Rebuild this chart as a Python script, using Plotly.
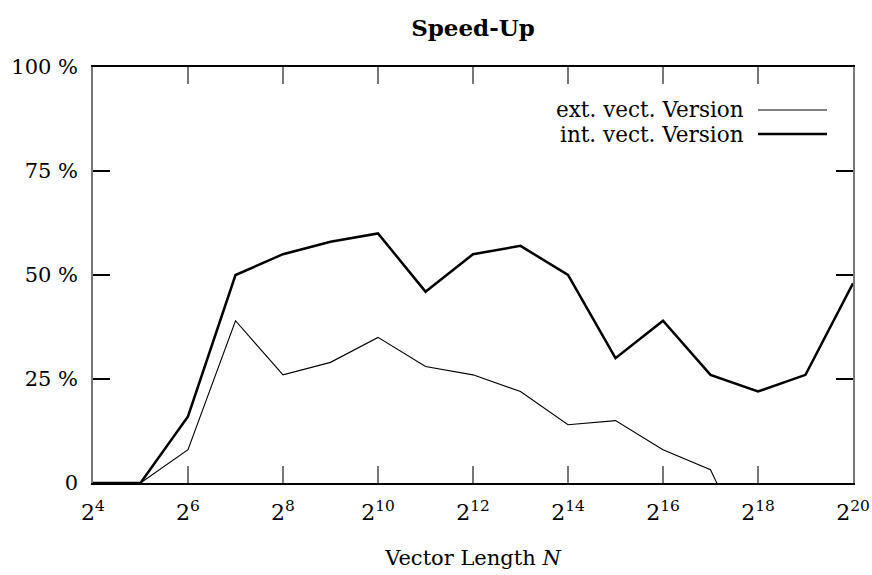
import plotly.graph_objects as go

exponents = [4, 5, 6, 7, 8, 9, 10, 11, 12, 13, 14, 15, 16, 17, 18, 19, 20]
ext_exponents = [4, 5, 6, 7, 8, 9, 10, 11, 12, 13, 14, 15, 16, 17, 18]
ext_speedup = [0, 0, 8, 39, 26, 29, 35, 28, 26, 22, 14, 15, 8, 3.2, -21]
int_speedup = [0, 0, 16, 50, 55, 58, 60, 46, 55, 57, 50, 30, 39, 26, 22, 26, 48]
x_tick_exps = [4, 6, 8, 10, 12, 14, 16, 18, 20]
y_tick_vals = [0, 25, 50, 75, 100]
y_tick_text = ["0", "25 %", "50 %", "75 %", "100 %"]
series_names = ["ext. vect. Version", "int. vect. Version"]

FONT = "DejaVu Serif"

fig = go.Figure()
fig.add_trace(go.Scatter(x=[2 ** e for e in ext_exponents], y=ext_speedup, mode="lines",
                         line=dict(color="black", width=1.1), name=series_names[0], showlegend=False))
fig.add_trace(go.Scatter(x=[2 ** e for e in exponents], y=int_speedup, mode="lines",
                         line=dict(color="black", width=2.5), name=series_names[1], showlegend=False))

# manual legend (text left of sample line)
legend_rows_y = [110, 134]
widths = [1.1, 2.5]
H = 575
W = 872
for name, yy, w in zip(series_names, legend_rows_y, widths):
    fig.add_annotation(xref="paper", yref="paper", x=(746 - 93) / 760, y=(483 - yy) / 416,
                       text=name, showarrow=False, xanchor="right", yanchor="middle",
                       font=dict(family=FONT, size=21.5, color="black"))
    fig.add_shape(type="line", xref="paper", yref="paper",
                  x0=(758 - 93) / 760, x1=(827 - 93) / 760,
                  y0=(483 - yy) / 416, y1=(483 - yy) / 416,
                  line=dict(color="black", width=w))

fig.update_layout(
    width=W, height=H,
    margin=dict(l=93, r=19, t=67, b=92),
    paper_bgcolor="white", plot_bgcolor="white",
    font=dict(family=FONT, size=21, color="black"),
    title=dict(text="<b>Speed-Up</b>", x=(473) / W, xanchor="center", y=1 - 28 / H, yanchor="middle",
               font=dict(family=FONT, size=23, color="black")),
    xaxis=dict(type="log", range=[4 * 0.30103, 20 * 0.30103], automargin=False,
               tickvals=[2 ** e for e in x_tick_exps],
               ticktext=[f"2<sup>{e}</sup>" for e in x_tick_exps],
               ticks="inside", ticklen=17, tickcolor="#777777", tickwidth=1.5,
               showline=True, linecolor="black", linewidth=1.5, mirror="allticks",
               showgrid=False, zeroline=False, ticklabelstandoff=9,
               tickfont=dict(family=FONT, size=22),
               title=dict(text="Vector Length <i>N</i>", font=dict(family=FONT, size=21), standoff=26)),
    yaxis=dict(range=[0, 100], tickvals=y_tick_vals, ticktext=y_tick_text, automargin=False,
               ticks="inside", ticklen=17, tickcolor="black", tickwidth=1.5,
               showline=True, linecolor="#777777", linewidth=1.5, mirror="allticks",
               showgrid=False, zeroline=False, ticklabelstandoff=9,
               tickfont=dict(family=FONT, size=21)),
)

fig.write_html("out.html")
